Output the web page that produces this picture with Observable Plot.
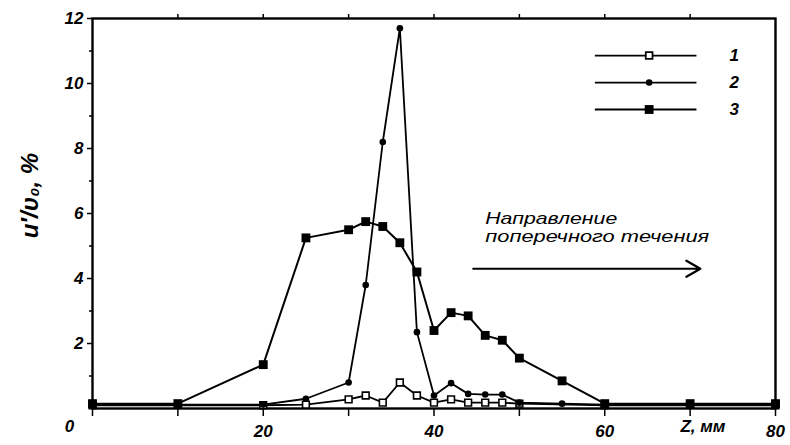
<!DOCTYPE html>
<html><head><meta charset="utf-8">
<script src="https://cdn.jsdelivr.net/npm/d3@7"></script>
<script src="https://cdn.jsdelivr.net/npm/@observablehq/plot@0.6"></script>
<style>body{margin:0;background:#fff} svg{display:block}</style>
</head><body><div id="chart"></div>
<script>
// Z, mm
const z1 = [0, 20, 25, 30, 32, 34, 36, 38, 40, 42, 44, 46, 48, 50, 60, 80];
const v1 = [0.1, 0.1, 0.12, 0.28, 0.4, 0.18, 0.8, 0.4, 0.18, 0.28, 0.18, 0.18, 0.18, 0.15, 0.1, 0.1];
const z2 = [0, 10, 20, 25, 30, 32, 34, 36, 38, 40, 42, 44, 46, 48, 50, 55, 60, 70, 80];
const v2 = [0.12, 0.12, 0.12, 0.3, 0.8, 3.8, 8.2, 11.7, 2.35, 0.4, 0.78, 0.45, 0.43, 0.43, 0.18, 0.15, 0.12, 0.12, 0.12];
const z3 = [0, 10, 20, 25, 30, 32, 34, 36, 38, 40, 42, 44, 46, 48, 50, 55, 60, 70, 80];
const v3 = [0.15, 0.15, 1.35, 5.25, 5.5, 5.75, 5.6, 5.1, 4.2, 2.4, 2.95, 2.85, 2.25, 2.1, 1.55, 0.85, 0.15, 0.15, 0.15];
const seriesNames = ["1", "2", "3"];
const xTickLabels = [20, 40, 60, 80];
const xAllTicks = [0, 10, 20, 30, 40, 50, 60, 70, 80];
const yTickLabels = [2, 4, 6, 8, 10, 12];
const yMinorTicks = [1, 3, 5, 7, 9, 11];
const yLabel = "u′/υ₀, %";
const xLabel = "Z, мм";
const noteLines = ["Направление", "поперечного течения"];

const toRows = (name, zs, vs) => zs.map((z, i) => ({series: name, z, v: vs[i]}));
const d1 = toRows("1", z1, v1), d2 = toRows("2", z2, v2), d3r = toRows("3", z3, v3);

const font = "'Liberation Sans', 'DejaVu Sans', sans-serif";
const tickFont = {fontSize: 17, fontWeight: 600, fontStyle: "italic"};

// legend layout (data units)
const legX1 = 58.9, legX2 = 70.8, legMark = 65.2, legText = 74.6;
const legY = [10.86, 10.03, 9.2];
const legRows = seriesNames.map((s, i) => ({s, y: legY[i]}));

const chart = Plot.plot({
  width: 790, height: 445,
  marginTop: 18, marginRight: 15, marginBottom: 37, marginLeft: 92,
  x: {domain: [0, 80], label: null},
  y: {domain: [0, 12], label: null},
  style: {fontFamily: font, background: "#fff", color: "#000"},
  marks: [
    Plot.axisY(yTickLabels, {tickSize: 5, tickPadding: 4, strokeWidth: 1.5, ...tickFont, label: null}),
    Plot.axisY(yMinorTicks, {tickSize: 3, tickFormat: () => "", strokeWidth: 1.5, label: null}),
    Plot.axisX(xAllTicks, {tickSize: 8, tickPadding: 8, strokeWidth: 1.5, tickFormat: d => xTickLabels.includes(d) ? String(d) : "", ...tickFont, label: null}),
    Plot.axisX([10, 20, 30, 40, 50, 60, 70], {anchor: "top", tickSize: 5, tickFormat: () => "", strokeWidth: 1.5, label: null}),
    Plot.text([0], {x: d => d, text: d => String(d), frameAnchor: "bottom", textAnchor: "middle", dy: 23, dx: -23, ...tickFont}),
    Plot.frame({strokeWidth: 2.4}),
    Plot.line(d1, {x: "z", y: "v", stroke: "black", strokeWidth: 1.8}),
    Plot.line(d2, {x: "z", y: "v", stroke: "black", strokeWidth: 1.8}),
    Plot.line(d3r, {x: "z", y: "v", stroke: "black", strokeWidth: 2}),
    Plot.dot(d1, {x: "z", y: "v", symbol: "square", r: 3.8, fill: "white", stroke: "black", strokeWidth: 1.6}),
    Plot.dot(d2, {x: "z", y: "v", symbol: "circle", r: 3.3, fill: "black", stroke: "none"}),
    Plot.dot(d3r, {x: "z", y: "v", symbol: "square", r: 5, fill: "black", stroke: "none"}),
    // legend
    Plot.ruleY(legRows, {y: "y", x1: legX1, x2: legX2, stroke: "black", strokeWidth: 1.8}),
    Plot.dot(legRows.slice(0, 1), {x: legMark, y: "y", symbol: "square", r: 3.8, fill: "white", stroke: "black", strokeWidth: 1.8}),
    Plot.dot(legRows.slice(1, 2), {x: legMark, y: "y", symbol: "circle", r: 3.3, fill: "black"}),
    Plot.dot(legRows.slice(2, 3), {x: legMark, y: "y", symbol: "square", r: 5, fill: "black"}),
    Plot.text(legRows, {x: legText, y: "y", text: "s", textAnchor: "start", fontSize: 17, fontWeight: 700, fontStyle: "italic"}),
    // annotation
    Plot.text(noteLines, {x: 46, y: (d, i) => [5.85, 5.3][i], text: d => d, textAnchor: "start", fontSize: 17, fontStyle: "italic", className: "note"}),
    Plot.arrow([0], {x1: 44.6, x2: 71.2, y1: 4.3, y2: 4.3, stroke: "black", strokeWidth: 2.2, headLength: 11}),
    // axis titles
    Plot.text([yLabel], {frameAnchor: "left", y: 6.55, dx: -62, rotate: -90, textAnchor: "middle", text: d => d, fontSize: 24, fontWeight: 600, fontStyle: "italic"}),
    Plot.text([xLabel], {x: 71.5, frameAnchor: "bottom", textAnchor: "middle", dy: 23, text: d => d, fontSize: 17, fontWeight: 600, fontStyle: "italic"})
  ]
});
document.getElementById("chart").appendChild(chart);
// stretch annotation lines to the reference's widths
const widths = [132, 224];
d3.select(chart).selectAll(".note text").each(function(d, i) {
  this.setAttribute("textLength", widths[i]);
  this.setAttribute("lengthAdjust", "spacingAndGlyphs");
});
</script>
</body></html>
